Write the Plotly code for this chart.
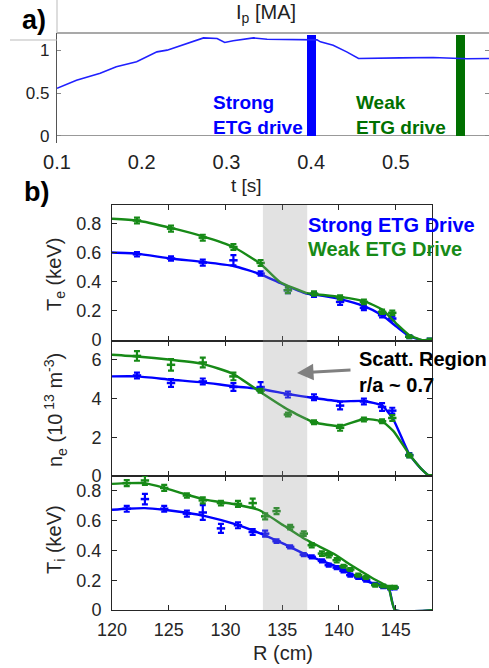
import plotly.graph_objects as go

W, H = 489, 668
def PX(x): return x / W
def PY(y): return 1 - y / H

# ---------------- Panel a data: plasma current ----------------
t_s = [0.100, 0.123, 0.151, 0.170, 0.194, 0.206, 0.218, 0.230, 0.253, 0.269, 0.273, 0.289,
       0.298, 0.308, 0.332, 0.348, 0.387, 0.407, 0.411, 0.426, 0.442, 0.456, 0.505, 0.544,
       0.584, 0.610]
ip_MA = [0.555, 0.65, 0.73, 0.806, 0.864, 0.922, 0.98, 1.0, 1.078, 1.136, 1.143, 1.136,
         1.09, 1.11, 1.143, 1.128, 1.124, 1.12, 1.097, 1.058, 0.98, 0.903, 0.91, 0.915,
         0.9, 0.903]
window_times = [0.400, 0.576]
window_heights = [1.18, 1.18]

# ---------------- Panel b data ----------------
R_ts = [122.2, 125.2, 128.0, 130.7, 133.1, 135.5, 137.8, 140.1, 142.2, 143.8, 144.7, 146.2, 148.0]
Te_strong = [0.588, 0.559, 0.531, 0.547, 0.456, 0.342, 0.312, 0.262, 0.221, 0.171, 0.148, 0.023, 0.0]
Te_strong_err = [0.015, 0.015, 0.02, 0.035, 0.015, 0.02, 0.015, 0.02, 0.015, 0.015, 0.015, 0.01, 0.01]
Te_weak = [0.82, 0.764, 0.702, 0.638, 0.529, 0.342, 0.319, 0.292, 0.262, 0.194, 0.187, 0.023, 0.0]
Te_weak_err = [0.02, 0.02, 0.02, 0.02, 0.02, 0.02, 0.015, 0.015, 0.015, 0.015, 0.015, 0.01, 0.01]

ne_strong = [5.20, 4.81, 4.89, 4.60, 4.60, 4.21, 4.07, 3.64, 3.85, 3.57, 3.38, 1.08, 0.0]
ne_strong_err = [0.15, 0.2, 0.15, 0.2, 0.25, 0.15, 0.15, 0.2, 0.15, 0.2, 0.15, 0.1, 0.05]
ne_weak = [6.21, 5.75, 5.87, 5.15, 4.41, 3.18, 2.78, 2.49, 2.92, 2.83, 3.0, 1.06, 0.0]
ne_weak_err = [0.25, 0.3, 0.25, 0.2, 0.1, 0.1, 0.1, 0.15, 0.1, 0.1, 0.15, 0.1, 0.05]

R_fit_e = [120.0, 122.2, 125.2, 128.0, 130.7, 133.1, 134.8, 137.1, 137.8, 140.1, 142.2, 143.8,
           145.1, 146.2, 147.3, 148.2]
Te_strong_fit = [0.600, 0.593, 0.559, 0.536, 0.508, 0.451, 0.392, 0.319, 0.312, 0.281, 0.233,
                 0.171, 0.091, 0.027, 0.0, 0.0]
Te_weak_fit = [0.832, 0.82, 0.769, 0.711, 0.638, 0.522, 0.399, 0.324, 0.316, 0.296, 0.267,
               0.21, 0.11, 0.034, 0.0, 0.0]

R_fit_n = [120.0, 122.2, 125.2, 128.0, 130.7, 133.1, 135.5, 137.8, 140.1, 142.2, 143.8, 144.8,
           146.2, 147.3, 148.0, 148.2]
ne_strong_fit = [5.15, 5.15, 4.98, 4.84, 4.64, 4.50, 4.24, 4.03, 3.86, 3.88, 3.64, 2.92,
                 1.12, 0.34, 0.0, 0.0]
ne_weak_fit = [6.27, 6.18, 6.01, 5.80, 5.27, 4.33, 3.43, 2.78, 2.58, 2.95, 2.83, 2.32,
               1.12, 0.34, 0.0, 0.0]

R_cx = [121.3, 122.9, 124.6, 126.6, 128.0, 129.6, 131.1, 132.4, 133.5, 134.5, 135.7, 136.9,
        137.6, 138.5, 139.1, 139.8, 140.4, 141.0, 141.7, 142.4, 143.2, 143.9, 144.5, 144.9]
Ti_strong = [0.680, 0.745, 0.680, 0.647, 0.655, 0.548, 0.569, 0.524, 0.513, 0.462, 0.424, 0.372,
             0.357, 0.330, 0.301, 0.285, 0.263, 0.234, 0.219, 0.201, 0.172, 0.156, 0.149, 0.149]
Ti_strong_err = [0.02, 0.035, 0.02, 0.02, 0.05, 0.03, 0.02, 0.02, 0.02, 0.012, 0.01, 0.01,
                 0.01, 0.01, 0.01, 0.01, 0.01, 0.01, 0.01, 0.01, 0.01, 0.01, 0.01, 0.01]
Ti_weak = [0.852, 0.87, 0.82, 0.769, 0.736, 0.718, 0.713, 0.718, 0.629, 0.664, 0.557, 0.513,
           0.435, 0.379, 0.368, 0.334, 0.294, 0.272, 0.234, 0.219, 0.167, 0.161, 0.152, 0.152]
Ti_weak_err = [0.02, 0.03, 0.02, 0.015, 0.02, 0.015, 0.02, 0.03, 0.02, 0.02, 0.015, 0.015,
               0.015, 0.015, 0.015, 0.015, 0.01, 0.01, 0.01, 0.01, 0.01, 0.01, 0.01, 0.01]

R_fit_i = [120.0, 121.3, 122.9, 124.6, 126.6, 128.3, 130.7, 133.0, 135.1, 137.2, 139.5, 141.3,
           143.0, 144.35, 144.94, 148.3]
Ti_strong_fit = [0.673, 0.68, 0.684, 0.673, 0.653, 0.629, 0.58, 0.517, 0.446, 0.368, 0.301,
                 0.234, 0.178, 0.156, 0.0, 0.0]
Ti_weak_fit = [0.847, 0.852, 0.852, 0.82, 0.774, 0.74, 0.712, 0.67, 0.569, 0.468, 0.379,
               0.29, 0.212, 0.152, 0.0, 0.0]

scatt_region = [133.3, 137.2]

BLUE = "#0000ff"
GREEN = "#178a17"
DKGREEN = "#007000"
FONT = "Liberation Sans, Arial, sans-serif"
TXT = "#262626"

fig = go.Figure()

# panel a
fig.add_trace(go.Scatter(x=t_s, y=ip_MA, mode="lines", line=dict(color="#2020ff", width=1.6),
                         xaxis="x4", yaxis="y4", showlegend=False))
fig.add_trace(go.Bar(x=window_times, y=window_heights, width=0.0105,
                     marker=dict(color=[BLUE, DKGREEN], line=dict(width=0)),
                     xaxis="x4", yaxis="y4", showlegend=False))

def profile(xf, yf, xp, yp, ep, color, ax):
    fig.add_trace(go.Scatter(x=xf, y=yf, mode="lines", line=dict(color=color, width=2.4, shape="spline", smoothing=0.5),
                             xaxis="x" + ax, yaxis="y" + ax, showlegend=False))
    fig.add_trace(go.Scatter(x=xp, y=yp, mode="markers",
                             marker=dict(symbol="line-ew", size=6, line=dict(color=color, width=2.5)),
                             error_y=dict(type="data", array=ep, color=color, thickness=2.2, width=3),
                             xaxis="x" + ax, yaxis="y" + ax, showlegend=False))

profile(R_fit_e, Te_strong_fit, R_ts, Te_strong, Te_strong_err, BLUE, "1")
profile(R_fit_e, Te_weak_fit, R_ts, Te_weak, Te_weak_err, GREEN, "1")
profile(R_fit_n, ne_strong_fit, R_ts, ne_strong, ne_strong_err, BLUE, "2")
profile(R_fit_n, ne_weak_fit, R_ts, ne_weak, ne_weak_err, GREEN, "2")
profile(R_fit_i, Ti_strong_fit, R_cx, Ti_strong, Ti_strong_err, BLUE, "3")
profile(R_fit_i, Ti_weak_fit, R_cx, Ti_weak, Ti_weak_err, GREEN, "3")

xdom = [PX(112), PX(432)]
common_x = dict(range=[120, 148.2], domain=xdom, showline=True, linecolor=TXT, linewidth=1,
                mirror="ticks", ticks="inside", ticklen=5, tickcolor=TXT, showgrid=False,
                zeroline=False, dtick=5, tick0=120, automargin=False,
                tickfont=dict(family=FONT, size=18, color=TXT))
common_y = dict(showline=True, linecolor=TXT, linewidth=1, mirror="ticks", ticks="inside",
                ticklen=5, tickcolor=TXT, showgrid=False, zeroline=False, automargin=False,
                tickfont=dict(family=FONT, size=18, color=TXT), ticklabelstandoff=6)

layout = dict(
    width=W, height=H, margin=dict(l=0, r=0, t=0, b=0, autoexpand=False),
    paper_bgcolor="white", plot_bgcolor="rgba(0,0,0,0)", showlegend=False,
    font=dict(family=FONT, color=TXT),
    xaxis=dict(common_x, anchor="y", showticklabels=False),
    xaxis2=dict(common_x, anchor="y2", showticklabels=False, matches="x3"),
    xaxis3=dict(common_x, anchor="y3", ticklabelstandoff=3),
    yaxis=dict(common_y, domain=[PY(341), PY(205)], range=[-0.006, 0.926], anchor="x",
               tickvals=[0, 0.2, 0.4, 0.6, 0.8]),
    yaxis2=dict(common_y, domain=[PY(476), PY(341)], range=[0, 6.98], anchor="x2",
                tickvals=[0, 2, 4, 6]),
    yaxis3=dict(common_y, domain=[PY(610), PY(476)], range=[0, 0.9], anchor="x3",
                tickvals=[0, 0.2, 0.4, 0.6, 0.8], ticktext=["0", "0.2", "0.4", "0.6", "0.8"]),
    xaxis4=dict(domain=[PX(57), 1.0], range=[0.1, 0.61], anchor="y4", showline=False,
                ticks="", showgrid=False, zeroline=False, automargin=False,
                tickvals=[0.1, 0.2, 0.3, 0.4, 0.5, 0.6], ticktext=["0.1", "0.2", "0.3", "0.4", "0.5", "0.6"],
                tickfont=dict(family=FONT, size=20, color="#222"), ticklabelstandoff=5),
    yaxis4=dict(domain=[PY(143), PY(33)], range=[-0.082, 1.2], anchor="x4",
                showline=True, linecolor="#555", linewidth=1.2, ticks="inside", ticklen=4,
                tickcolor="#888", mirror="ticks", showgrid=False, automargin=False,
                zeroline=True, zerolinecolor="#999", zerolinewidth=1,
                tickvals=[0, 0.5, 1], tickfont=dict(family=FONT, size=17, color="#222"),
                ticklabelstandoff=3),
    bargap=0,
)
fig.update_layout(**layout)

shapes = [
    # scattering region band over all three panels
    dict(type="rect", xref="x3", yref="paper", x0=scatt_region[0], x1=scatt_region[1],
         y0=PY(610), y1=PY(205), fillcolor="rgba(150,150,150,0.28)", line=dict(width=0), layer="above"),
    # top border of panel a
    dict(type="line", xref="paper", yref="paper", x0=PX(57), x1=1.0, y0=PY(33), y1=PY(33),
         line=dict(color="#555", width=1.2)),
    # label box lines of a)
    dict(type="line", xref="paper", yref="paper", x0=PX(57), x1=PX(57), y0=PY(0), y1=PY(33),
         line=dict(color="#bbb", width=1)),
    dict(type="line", xref="paper", yref="paper", x0=PX(10), x1=PX(57), y0=PY(40), y1=PY(40),
         line=dict(color="#bbb", width=1)),
]
fig.update_layout(shapes=shapes)

def ann(text, x, y, size, color="black", bold=False, xanchor="center", angle=0):
    t = f"<b>{text}</b>" if bold else text
    return dict(text=t, x=PX(x), y=PY(y), xref="paper", yref="paper", showarrow=False,
                xanchor=xanchor, yanchor="middle", textangle=angle,
                font=dict(family=FONT, size=size, color=color))

anns = [
    ann("a)", 34, 20, 27, "black", True),
    ann("b)", 36, 192, 27, "black", True),
    ann("I<sub>p</sub> [MA]", 266, 13, 20, "#222"),
    ann("t [s]", 246, 186, 19, "#222"),
    dict(ann("Strong<br>ETG drive", 211, 115, 19, BLUE, True, "left"), align="left"),
    dict(ann("Weak<br>ETG drive", 354, 115, 19, DKGREEN, True, "left"), align="left"),
    ann("Strong ETG Drive", 306, 225, 20, BLUE, True, "left"),
    ann("Weak ETG Drive", 306, 249, 20, GREEN, True, "left"),
    dict(ann("Scatt. Region<br>r/a ~ 0.7", 357, 372, 20, "black", True, "left"), align="left"),
    ann("T<sub>e</sub> (keV)", 55, 275, 20, TXT, angle=-90),
    ann("n<sub>e</sub> (10<sup> 13</sup> m<sup>-3</sup>)", 55, 410, 20, TXT, angle=-90),
    ann("T<sub>i</sub> (keV)", 55, 540, 20, TXT, angle=-90),
    ann("R (cm)", 283, 653, 20, TXT),
    dict(x=PX(297), y=PY(373), ax=55, ay=-3, xref="paper", yref="paper",
         axref="pixel", ayref="pixel", showarrow=True, arrowhead=2, arrowsize=1.1,
         arrowwidth=3, arrowcolor="#808080", text=""),
]
fig.update_layout(annotations=anns)

fig.write_html("out.html")
